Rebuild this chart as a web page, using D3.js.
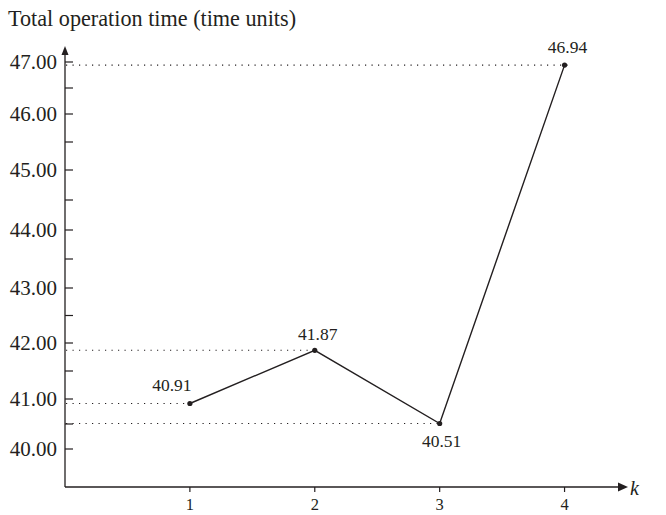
<!DOCTYPE html>
<html><head><meta charset="utf-8">
<script src="https://cdn.jsdelivr.net/npm/d3@7"></script>
<style>body{margin:0;background:#fff}svg{display:block}</style>
</head><body>
<svg id="c" width="666" height="515"></svg>
<script>
const ks = [1, 2, 3, 4];
const times = [40.91, 41.87, 40.51, 46.94];
const labels = ["40.91", "41.87", "40.51", "46.94"];
const yTicks = [40, 41, 42, 43, 44, 45, 46, 47];
const yMinor = [40.5, 41.5, 42.5, 43.5, 44.5, 45.5, 46.5];
const xTicks = [1, 2, 3, 4];

const svg = d3.select("#c");
const font = "'Liberation Serif','Times New Roman',serif";
const ax0 = 65, ay0 = 487;
const x = d3.scaleLinear().domain([0, 4.5]).range([ax0, 627]);
// the reference's tick spacing is slightly uneven; follow it with a piecewise-linear scale
const y = d3.scaleLinear().domain(yTicks).range([449, 399, 343, 288, 230, 170, 114, 62]);
const col = "#231f20";

svg.append("text").attr("x", 8).attr("y", 26).attr("font-family", font).attr("font-size", 22.2).attr("fill", col)
  .text("Total operation time (time units)");

// dotted guides
const guideEnd = [x(1), x(2), x(3), x(4) + 8];
times.forEach((t, i) => {
  svg.append("line").attr("x1", ax0 + 1).attr("x2", guideEnd[i]).attr("y1", y(t)).attr("y2", y(t))
    .attr("stroke", col).attr("stroke-width", 1.1).attr("stroke-dasharray", "1.2,5.3");
});

// axes
svg.append("line").attr("x1", ax0).attr("x2", ax0).attr("y1", ay0).attr("y2", 52).attr("stroke", col).attr("stroke-width", 1.3);
svg.append("path").attr("d", `M${ax0 - 3.5},${55} L${ax0},${46} L${ax0 + 3.5},${55} Z`).attr("fill", col);
svg.append("line").attr("x1", ax0).attr("x2", 620).attr("y1", ay0).attr("y2", ay0).attr("stroke", col).attr("stroke-width", 1.3);
svg.append("path").attr("d", `M${618},${ay0 - 4.5} L${628},${ay0} L${618},${ay0 + 4.5} Z`).attr("fill", col);
svg.append("text").attr("x", 630).attr("y", 495).attr("font-family", font).attr("font-style", "italic").attr("font-size", 20).attr("fill", col).text("k");

// y ticks
yTicks.forEach(v => {
  svg.append("line").attr("x1", ax0).attr("x2", ax0 + 8).attr("y1", y(v)).attr("y2", y(v)).attr("stroke", col).attr("stroke-width", 1.2);
  svg.append("text").attr("x", 57).attr("y", y(v) + 7).attr("text-anchor", "end").attr("font-family", font).attr("font-size", 21).attr("fill", col)
    .text(v.toFixed(2));
});
yMinor.forEach(v => {
  svg.append("line").attr("x1", ax0).attr("x2", ax0 + 8).attr("y1", y(v)).attr("y2", y(v)).attr("stroke", col).attr("stroke-width", 1.2);
});
// x ticks
xTicks.forEach(v => {
  svg.append("line").attr("x1", x(v)).attr("x2", x(v)).attr("y1", ay0).attr("y2", ay0 + 5).attr("stroke", col).attr("stroke-width", 1.2);
  svg.append("text").attr("x", x(v)).attr("y", 510).attr("text-anchor", "middle").attr("font-family", font).attr("font-size", 16.5).attr("fill", col).text(v);
});

// line
const line = d3.line().x((d, i) => x(ks[i])).y(d => y(d));
svg.append("path").attr("d", line(times)).attr("fill", "none").attr("stroke", col).attr("stroke-width", 1.4);
svg.selectAll("circle.p").data(times).enter().append("circle")
  .attr("cx", (d, i) => x(ks[i])).attr("cy", d => y(d)).attr("r", 2.6).attr("fill", col);

// data labels
const dx = [-18, 3, 2, 3];
const dy = [-13, -10, 23, -12];
times.forEach((t, i) => {
  svg.append("text").attr("x", x(ks[i]) + dx[i]).attr("y", y(t) + dy[i]).attr("text-anchor", "middle")
    .attr("font-family", font).attr("font-size", 17.5).attr("fill", col).text(labels[i]);
});
</script>
</body></html>
